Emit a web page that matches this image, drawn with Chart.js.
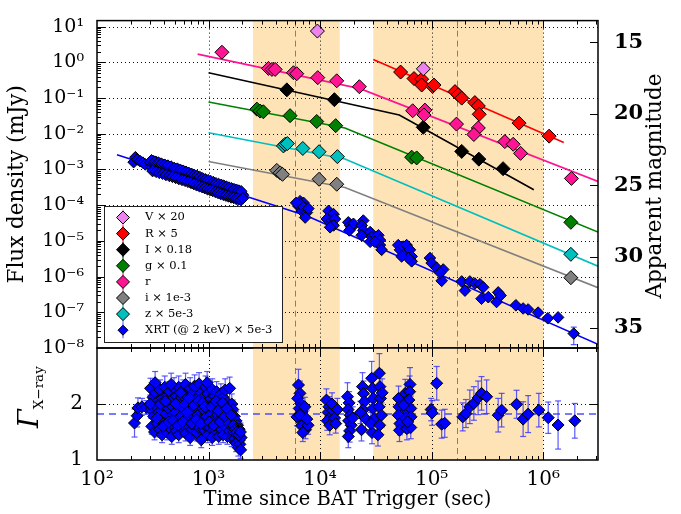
<!DOCTYPE html>
<html>
<head>
<meta charset="utf-8">
<script src="https://cdn.jsdelivr.net/npm/chart.js@4.4.1/dist/chart.umd.min.js"></script>
<style>
  html, body { margin: 0; padding: 0; background: #fff; }
  #wrap { position: relative; width: 681px; height: 514px; }
  #wrap canvas { position: absolute; left: 0; top: 0; }
</style>
</head>
<body>
<div id="wrap">
  <canvas id="fluxChart" width="681" height="514"></canvas>
  <canvas id="gammaChart" width="681" height="514"></canvas>
</div>
<script>
// axis ranges and ticks
const T_MIN = 100, T_MAX = 3.1e6;
const F_MIN = 1e-8, F_MAX = 14.7;
const G_MIN = 1, G_MAX = 3;
const xMajors = [1e2, 1e3, 1e4, 1e5, 1e6];
const fluxMajors = [1e-8, 1e-7, 1e-6, 1e-5, 1e-4, 1e-3, 1e-2, 1e-1, 1, 10];
const magTicks = [15, 20, 25, 30, 35];
const gammaTicks = [1, 2];
const shadedBands = [[2500, 15000], [30000, 1e6]];
const dashedTimes = [6000, 170000];
const gammaMean = 1.82;

// optical points [t (s), flux (mJy), err]
const vPts = [[9460, 7.49], [84300, 0.656]];
const RPts = [[52700, 0.533], [69500, 0.35], [81400, 0.336], [81400, 0.231], [102000, 0.211], [105000, 0.231],
  [162000, 0.151], [173000, 0.123], [186000, 0.0993], [244000, 0.0744], [262000, 0.060], [267000, 0.035],
  [608000, 0.0198], [1.13e6, 0.00855]];
const IPts = [[5035, 0.169], [13430, 0.0898], [84100, 0.0151], [186000, 0.0032], [265000, 0.00194], [437000, 0.00105, 0.00022]];
const gPts = [[2710, 0.0488], [2900, 0.043], [3100, 0.0412], [5380, 0.032], [9330, 0.022], [13800, 0.0168],
  [66200, 0.0022], [73400, 0.0021], [1.77e6, 3.3e-5]];
const rPts = [[1318, 1.91], [3444, 0.673], [3700, 0.632], [3955, 0.632], [5770, 0.51], [6180, 0.479], [9530, 0.372],
  [14100, 0.303], [22500, 0.207], [67600, 0.0439], [87100, 0.0458], [85300, 0.0335], [167000, 0.0186, 0.004],
  [262000, 0.0145], [239000, 0.0095], [453000, 0.00602], [538000, 0.00507], [627000, 0.00282], [1.79e6, 5.6e-4]];
const iPts = [[4090, 9.4e-4], [4390, 8.0e-4], [4600, 7.3e-4], [9790, 5.3e-4], [14100, 3.85e-4], [1.77e6, 9.3e-7]];
const zPts = [[4690, 4.55e-3], [4860, 5.07e-3], [5090, 5.3e-3], [7000, 3.87e-3], [9790, 3.13e-3], [14300, 2.28e-3], [1.77e6, 4.2e-6]];

// XRT flux at 2 keV (scaled) [t, flux, err]
const xrtPts = [
  [213, 1.6e-3], [221, 2.2e-3], [230, 1.9e-3], [244, 1.7e-3], [258, 1.55e-3], [271, 1.38e-3],
  [302, 1.55e-3], [305, 1.2e-3], [312, 1.1e-3], [318, 1.7e-3], [322, 1.4e-3], [328, 1.0e-3], [335, 1.25e-3],
  [340, 1.6e-3], [345, 1.4e-3], [352, 9.5e-4], [360, 1.15e-3], [366, 1.45e-3], [372, 1.3e-3], [380, 9e-4],
  [390, 1.1e-3], [398, 1.35e-3], [402, 1.2e-3], [410, 8.5e-4], [422, 1.05e-3], [428, 1.25e-3], [435, 9.5e-4],
  [448, 1.15e-3], [455, 8.2e-4], [460, 1.0e-3], [472, 1.1e-3], [480, 8.5e-4], [488, 9.2e-4], [500, 7.4e-4],
  [508, 1.0e-3], [515, 8.6e-4], [530, 8e-4], [538, 9.6e-4], [545, 6.8e-4], [560, 8.4e-4], [570, 7.2e-4],
  [578, 9.0e-4], [595, 7.6e-4], [605, 6.4e-4], [612, 8.2e-4], [630, 7.0e-4], [640, 5.8e-4], [648, 7.6e-4],
  [668, 6.4e-4], [680, 7.4e-4], [690, 5.6e-4], [710, 6.6e-4], [722, 5.2e-4], [732, 6.8e-4], [755, 5.8e-4],
  [768, 4.8e-4], [778, 6.2e-4], [800, 5.2e-4], [812, 4.5e-4], [825, 5.8e-4], [850, 4.8e-4], [862, 5.6e-4],
  [876, 4.2e-4], [905, 5.0e-4], [918, 4.0e-4], [932, 4.6e-4], [962, 4.2e-4], [975, 3.6e-4], [990, 4.6e-4],
  [1020, 3.9e-4], [1035, 3.4e-4], [1050, 4.3e-4], [1085, 3.6e-4], [1100, 3.1e-4], [1120, 4.0e-4], [1155, 3.4e-4],
  [1170, 2.9e-4], [1190, 3.7e-4], [1230, 3.2e-4], [1250, 2.8e-4], [1270, 3.5e-4], [1310, 3.0e-4], [1330, 2.6e-4],
  [1355, 3.3e-4], [1400, 2.8e-4], [1420, 2.5e-4], [1445, 3.0e-4], [1490, 2.7e-4], [1510, 2.3e-4], [1540, 2.9e-4],
  [1590, 2.5e-4], [1610, 2.2e-4], [1640, 2.7e-4], [1690, 2.4e-4], [1720, 2.0e-4], [1740, 2.6e-4], [1790, 2.2e-4],
  [1820, 1.85e-4], [1840, 2.4e-4], [1890, 2.0e-4], [1920, 2.3e-4], [1940, 1.75e-4], [1990, 2.1e-4], [2040, 1.9e-4],
  [308, 1.8e-3], [330, 1.65e-3], [355, 1.55e-3], [378, 1.45e-3], [405, 1.35e-3], [432, 1.28e-3], [462, 1.2e-3],
  [492, 1.1e-3], [525, 1.05e-3], [558, 9.8e-4], [592, 9.2e-4], [628, 8.6e-4], [665, 8.0e-4], [705, 7.5e-4],
  [745, 7.0e-4], [790, 6.6e-4], [835, 6.1e-4], [885, 5.6e-4], [935, 5.3e-4], [990, 5.0e-4], [1045, 4.7e-4],
  [1105, 4.4e-4], [1165, 4.1e-4], [1230, 3.9e-4], [1300, 3.7e-4], [1370, 3.5e-4], [1445, 3.3e-4], [1525, 3.1e-4],
  [1605, 2.95e-4], [1690, 2.8e-4], [1780, 2.7e-4], [1870, 2.55e-4], [1960, 2.45e-4],
  [315, 9.0e-4], [338, 8.6e-4], [362, 8.0e-4], [388, 7.6e-4], [415, 7.0e-4], [445, 6.6e-4], [475, 6.2e-4],
  [508, 5.8e-4], [542, 5.4e-4], [578, 5.1e-4], [615, 4.8e-4], [655, 4.5e-4], [695, 4.2e-4], [738, 3.9e-4],
  [782, 3.6e-4], [828, 3.4e-4], [876, 3.2e-4], [925, 3.0e-4], [978, 2.8e-4], [1032, 2.65e-4], [1090, 2.5e-4],
  [1150, 2.35e-4], [1215, 2.2e-4], [1285, 2.05e-4], [1355, 1.95e-4], [1430, 1.85e-4], [1510, 1.75e-4],
  [1595, 1.65e-4], [1680, 1.6e-4], [1770, 1.5e-4], [1860, 1.45e-4], [1950, 1.4e-4], [2030, 1.55e-4],
  [6620, 1.29e-4], [7100, 1.16e-4], [6390, 9.4e-5], [7350, 8.5e-5], [6850, 6.9e-5], [7610, 6.2e-5], [7350, 4.5e-5],
  [6710, 1.05e-4], [6100, 1.16e-4], [7850, 8.0e-5],
  [11900, 6.9e-5], [12300, 5.0e-5], [13200, 5.6e-5], [11500, 4.1e-5], [12700, 3.7e-5], [13600, 4.1e-5],
  [13200, 2.7e-5], [12300, 2.4e-5],
  [17900, 3.3e-5], [18600, 2.7e-5], [19200, 2.4e-5], [19900, 3.0e-5], [18300, 1.96e-5],
  [24400, 3.7e-5], [23600, 2.7e-5], [24400, 1.96e-5], [23600, 1.43e-5], [28100, 1.76e-5], [29000, 1.29e-5],
  [28100, 9.4e-6], [33300, 1.43e-5], [34400, 1.05e-5], [34400, 7.6e-6], [35600, 5.6e-6], [31000, 9.4e-6],
  [50200, 7.6e-6], [52000, 5.6e-6], [55700, 6.9e-6], [57700, 4.5e-6], [59700, 7.6e-6], [63900, 5.6e-6],
  [66200, 3.66e-6], [66200, 2.67e-6], [61800, 3.3e-6], [53800, 3.66e-6],
  [96600, 3.3e-6], [100000, 2.4e-6], [111000, 1.75e-6], [123000, 7.6e-7, 1.2e-7], [127000, 1.58e-6], [119000, 1.28e-6],
  [186000, 7.3e-7], [199000, 4.05e-7], [220000, 7.3e-7], [244000, 6.4e-7], [271000, 6.1e-7], [290000, 5.0e-7],
  [280000, 2.4e-7], [322000, 2.65e-7], [395000, 3.6e-7], [382000, 1.94e-7], [415000, 2.95e-7],
  [569000, 1.57e-7], [661000, 1.28e-7], [733000, 1.2e-7], [900000, 9.8e-8], [1.1e6, 6.8e-8], [1.36e6, 7.2e-8],
  [1.88e6, 2.54e-8, 1.3e-8]
];

// model curves [t, flux]
const RLine = [[30000, 1.19], [1.53e6, 0.00564]];
const rLine = [[798, 1.69], [22800, 0.183], [3.1e6, 4.6e-4]];
const ILine = [[1000, 0.51], [51300, 0.0335], [824000, 2.69e-4]];
const gLine = [[1000, 0.0773], [16700, 0.0144], [3.1e6, 1.76e-5]];
const zLine = [[1000, 0.0106], [16700, 1.97e-3], [3.1e6, 1.95e-6]];
const iLine = [[1000, 1.66e-3], [16700, 3.12e-4], [3.1e6, 4.9e-7]];
const xrtLine = [[151, 2.59e-3], [7660, 4.98e-5], [3.1e6, 1.27e-8]];

// X-ray photon index [t, gamma, err]
const gammaPts = [
  [217, 1.66, 0.25], [229, 1.79, 0.2], [233, 1.93, 0.18], [253, 1.95, 0.15], [277, 1.94, 0.12],
  [302, 2.28, 0.18], [318, 2.12, 0.17], [335, 2.2, 0.18], [350, 2.05, 0.16], [368, 2.25, 0.18], [385, 2.1, 0.17],
  [405, 2.3, 0.2], [425, 2.15, 0.17], [446, 2.22, 0.18], [468, 2.08, 0.17], [490, 2.28, 0.19], [514, 2.14, 0.17],
  [540, 2.3, 0.2], [566, 2.1, 0.17], [594, 2.25, 0.18], [622, 2.35, 0.2], [652, 2.12, 0.17], [684, 2.28, 0.19],
  [716, 2.18, 0.17], [750, 2.32, 0.2], [786, 2.1, 0.17], [822, 2.36, 0.2], [860, 2.2, 0.18], [900, 2.12, 0.17],
  [940, 2.3, 0.2], [985, 2.18, 0.18], [1030, 2.08, 0.17], [1078, 2.26, 0.19], [1128, 2.14, 0.17], [1180, 2.22, 0.18],
  [1235, 2.05, 0.17], [1290, 2.18, 0.18], [1350, 2.12, 0.17], [1410, 2.25, 0.2], [1475, 2.02, 0.17], [1545, 2.28, 0.2],
  [1615, 2.0, 0.18],
  [305, 1.9, 0.15], [322, 1.78, 0.15], [340, 1.95, 0.15], [358, 1.85, 0.15], [376, 1.72, 0.15], [395, 1.98, 0.16],
  [415, 1.82, 0.15], [436, 1.92, 0.15], [457, 1.76, 0.15], [479, 1.95, 0.16], [502, 1.85, 0.15], [527, 1.72, 0.15],
  [553, 1.98, 0.16], [580, 1.8, 0.15], [608, 1.9, 0.15], [637, 1.75, 0.15], [668, 1.96, 0.16], [700, 1.84, 0.15],
  [733, 1.7, 0.15], [768, 1.92, 0.16], [804, 1.8, 0.15], [841, 1.98, 0.16], [880, 1.74, 0.15], [920, 1.88, 0.15],
  [962, 1.78, 0.15], [1006, 1.95, 0.16], [1053, 1.82, 0.15], [1102, 1.72, 0.15], [1153, 1.92, 0.16], [1207, 1.8, 0.15],
  [1262, 1.95, 0.16], [1320, 1.76, 0.15], [1380, 1.88, 0.15], [1442, 1.7, 0.15], [1508, 1.85, 0.16], [1578, 1.72, 0.15],
  [1650, 1.9, 0.17], [1700, 1.78, 0.16], [1760, 1.7, 0.16], [1820, 1.62, 0.16],
  [310, 1.6, 0.14], [328, 1.5, 0.14], [346, 1.65, 0.14], [364, 1.55, 0.14], [383, 1.45, 0.14], [403, 1.62, 0.14],
  [424, 1.5, 0.14], [446, 1.58, 0.14], [468, 1.42, 0.14], [491, 1.6, 0.14], [515, 1.52, 0.14], [540, 1.45, 0.14],
  [566, 1.62, 0.14], [594, 1.55, 0.14], [622, 1.48, 0.14], [652, 1.6, 0.14], [684, 1.4, 0.14], [716, 1.55, 0.14],
  [750, 1.62, 0.14], [786, 1.48, 0.14], [822, 1.58, 0.14], [860, 1.36, 0.14], [900, 1.55, 0.14], [940, 1.62, 0.14],
  [985, 1.45, 0.14], [1030, 1.58, 0.14], [1078, 1.4, 0.14], [1128, 1.55, 0.14], [1180, 1.62, 0.14], [1235, 1.42, 0.14],
  [1290, 1.56, 0.14], [1350, 1.45, 0.14], [1410, 1.6, 0.14], [1475, 1.42, 0.14], [1545, 1.52, 0.14], [1615, 1.38, 0.14],
  [1680, 1.5, 0.15], [1720, 1.38, 0.15], [1770, 1.3, 0.15], [1810, 1.45, 0.15], [1850, 1.22, 0.15], [1880, 1.35, 0.15],
  [1910, 1.28, 0.15], [1940, 1.18, 0.15], [1960, 1.4, 0.15], [1880, 1.55, 0.15],
  [300, 2.0, 0.16], [332, 2.38, 0.2], [345, 1.75, 0.15], [372, 2.0, 0.16], [392, 1.6, 0.15], [410, 2.05, 0.16],
  [440, 1.68, 0.15], [462, 2.35, 0.2], [485, 1.7, 0.15], [510, 2.0, 0.16], [535, 1.62, 0.15], [560, 2.2, 0.18],
  [588, 1.68, 0.15], [615, 2.0, 0.16], [645, 1.85, 0.15], [675, 2.1, 0.17], [708, 1.65, 0.15], [742, 1.98, 0.16],
  [778, 1.72, 0.15], [812, 2.05, 0.16], [850, 1.65, 0.15], [890, 2.02, 0.16], [930, 1.95, 0.16], [972, 2.38, 0.2],
  [1018, 1.68, 0.15], [1065, 1.95, 0.16], [1115, 1.62, 0.15], [1165, 2.05, 0.16], [1220, 1.88, 0.16],
  [1275, 1.68, 0.15], [1335, 2.02, 0.16], [1395, 1.78, 0.15], [1460, 1.92, 0.16], [1525, 1.65, 0.15],
  [1595, 1.8, 0.16], [1665, 1.62, 0.16], [1735, 1.55, 0.16], [1795, 1.5, 0.16], [1870, 1.45, 0.16], [1930, 1.5, 0.16],
  [6400, 2.34, 0.28], [6600, 2.19, 0.22], [6300, 2.1, 0.2], [6700, 2.01, 0.18], [6500, 1.92, 0.17], [6900, 1.86, 0.16],
  [6200, 1.77, 0.16], [7100, 1.7, 0.16], [6800, 1.61, 0.16], [7400, 1.54, 0.16], [7000, 1.49, 0.16], [7800, 1.62, 0.16],
  [6600, 1.8, 0.16], [7300, 1.95, 0.17], [7600, 1.73, 0.16],
  [11400, 2.07, 0.2], [12000, 1.95, 0.18], [11800, 1.85, 0.17], [12500, 1.78, 0.17], [11600, 1.7, 0.17],
  [12200, 1.62, 0.17], [13000, 1.88, 0.17], [13500, 1.75, 0.17], [12800, 2.0, 0.2], [13800, 1.65, 0.17], [14300, 1.9, 0.2],
  [17600, 2.13, 0.25], [18200, 2.02, 0.2], [17800, 1.9, 0.2], [18600, 1.8, 0.2], [18000, 1.7, 0.2], [19000, 1.62, 0.2],
  [18400, 1.52, 0.2], [17900, 1.42, 0.2], [19600, 1.75, 0.2],
  [24000, 2.31, 0.25], [24500, 2.19, 0.22], [25000, 2.04, 0.22], [24200, 1.89, 0.2], [25500, 1.74, 0.2],
  [23500, 1.54, 0.2], [23000, 1.85, 0.2], [29000, 2.46, 0.3], [29500, 2.28, 0.25], [30000, 2.1, 0.22],
  [29800, 1.92, 0.22], [30500, 1.74, 0.2], [29200, 1.49, 0.2], [28500, 1.65, 0.2], [34000, 2.55, 0.35],
  [34400, 2.31, 0.3], [34800, 2.1, 0.25], [33800, 1.95, 0.22], [35500, 1.8, 0.22], [34200, 1.62, 0.2],
  [33000, 1.45, 0.2], [36000, 2.2, 0.25],
  [50500, 2.1, 0.22], [51000, 1.95, 0.2], [50200, 1.8, 0.2], [52000, 1.65, 0.2], [51500, 1.53, 0.2], [58000, 2.19, 0.25],
  [59000, 2.04, 0.22], [59500, 1.89, 0.2], [58500, 1.74, 0.2], [60000, 1.56, 0.2], [64000, 2.35, 0.3],
  [63500, 2.22, 0.28], [62500, 2.07, 0.25], [65000, 1.92, 0.22], [65500, 1.77, 0.22], [65000, 1.58, 0.2],
  [56000, 1.98, 0.2], [61000, 1.68, 0.2],
  [99000, 1.9, 0.2], [101000, 1.84, 0.22], [111000, 2.37, 0.3], [123000, 1.64, 0.25], [131000, 1.655, 0.25],
  [190000, 1.77, 0.25], [203000, 1.83, 0.25], [220000, 1.95, 0.3], [239000, 2.01, 0.3], [261000, 2.11, 0.3],
  [280000, 2.19, 0.3], [311000, 2.13, 0.3], [395000, 1.8, 0.3], [424000, 1.89, 0.3], [577000, 1.995, 0.25],
  [661000, 1.73, 0.31], [733000, 1.82, 0.33], [914000, 1.89, 0.3], [1.11e6, 1.755, 0.28], [1.36e6, 1.625, 0.43],
  [1.92e6, 1.7, 0.31]
];

const legendLabels = ['V \u00d7 20', 'R \u00d7 5', 'I \u00d7 0.18', 'g \u00d7 0.1', 'r', 'i \u00d7 1e-3', 'z \u00d7 5e-3',
  'XRT (@ 2 keV) \u00d7 5e-3'];
const legendColors = ['#EE82EE', '#FF0000', '#000000', '#008000', '#FF1493', '#808080', '#00BFBF', '#0000FF'];

const SERIF = '"DejaVu Serif", serif';
const BAND = '#fde3b5';
const SUP = {'-': '\u207B', '0': '\u2070', '1': '\u00B9', '2': '\u00B2', '3': '\u00B3', '4': '\u2074',
  '5': '\u2075', '6': '\u2076', '7': '\u2077', '8': '\u2078', '9': '\u2079'};
const powLabel = v => '10' + String(Math.round(Math.log10(v))).split('').map(c => SUP[c]).join('');
const magAt = f => 16.4 - 2.5 * Math.log10(f);
const setTicks = list => s => { s.ticks = list.map(v => ({value: v})); };

function pointSet(pts, color, r) {
  return {
    data: pts.map(p => ({x: p[0], y: p[1]})),
    errorBars: pts.map(p => p[2] || 0),
    errorColor: color === '#0000FF' ? 'rgba(50,50,255,0.8)' : color,
    pointStyle: 'rectRot', pointRadius: r, backgroundColor: color,
    borderColor: '#000', borderWidth: 1, order: 1
  };
}
function lineSet(pts, color) {
  return {
    data: pts.map(p => ({x: p[0], y: p[1]})),
    showLine: true, pointRadius: 0, borderColor: color, borderWidth: 1.6, order: 2
  };
}

function hline(ctx, x0, y0, x1, y1) {
  ctx.beginPath(); ctx.moveTo(x0, y0); ctx.lineTo(x1, y1); ctx.stroke();
}

// bands, dotted grid, dashed epochs, frame and inward ticks
const panelDecor = {
  id: 'panelDecor',
  beforeDatasetsDraw(chart, args, o) {
    const {ctx, chartArea: a, scales} = chart;
    const x = scales.x, y = scales.y;
    ctx.save();
    ctx.beginPath(); ctx.rect(a.left, a.top, a.right - a.left, a.bottom - a.top); ctx.clip();
    ctx.fillStyle = BAND;
    shadedBands.forEach(([t0, t1]) => {
      const p0 = x.getPixelForValue(t0), p1 = x.getPixelForValue(t1);
      ctx.fillRect(p0, a.top, p1 - p0, a.bottom - a.top);
    });
    ctx.strokeStyle = '#111'; ctx.lineWidth = 1; ctx.setLineDash([1, 3]);
    xMajors.forEach(v => {
      const p = Math.round(x.getPixelForValue(v)) + 0.5;
      if (p > a.left + 2 && p < a.right - 2) hline(ctx, p, a.top, p, a.bottom);
    });
    o.yGrid.forEach(v => {
      const p = Math.round(y.getPixelForValue(v)) + 0.5;
      if (p > a.top + 2 && p < a.bottom - 2) hline(ctx, a.left, p, a.right, p);
    });
    ctx.strokeStyle = '#808080'; ctx.setLineDash([6, 4]);
    dashedTimes.forEach(v => {
      const p = Math.round(x.getPixelForValue(v)) + 0.5;
      hline(ctx, p, a.top, p, a.bottom);
    });
    ctx.restore();
  },
  afterDatasetsDraw(chart, args, o) {
    const {ctx, chartArea: a, scales} = chart;
    const x = scales.x, y = scales.y;
    ctx.save();
    ctx.strokeStyle = '#000'; ctx.lineWidth = 1;
    for (let e = 2; e <= 6; e++) {
      for (let m = 1; m <= 9; m++) {
        const v = m * Math.pow(10, e);
        if (v <= T_MIN || v >= T_MAX) continue;
        const p = Math.round(x.getPixelForValue(v)) + 0.5, len = m === 1 ? 8 : 4;
        hline(ctx, p, a.top, p, a.top + len);
        hline(ctx, p, a.bottom, p, a.bottom - len);
      }
    }
    if (o.logY) {
      for (let e = -8; e <= 1; e++) {
        for (let m = 1; m <= 9; m++) {
          const v = m * Math.pow(10, e);
          if (v <= F_MIN || v >= F_MAX) continue;
          const p = Math.round(y.getPixelForValue(v)) + 0.5, len = m === 1 ? 8 : 4;
          hline(ctx, a.left, p, a.left + len, p);
        }
      }
      const ym = scales.yMag;
      magTicks.forEach(v => {
        const p = Math.round(ym.getPixelForValue(v)) + 0.5;
        hline(ctx, a.right, p, a.right - 8, p);
      });
    } else {
      o.yGrid.forEach(v => {
        const p = Math.round(y.getPixelForValue(v)) + 0.5;
        hline(ctx, a.left, p, a.left + 8, p);
        hline(ctx, a.right, p, a.right - 8, p);
      });
    }
    ctx.lineWidth = 1.5;
    ctx.strokeRect(a.left, a.top, a.right - a.left, a.bottom - a.top);
    ctx.restore();
  }
};

// vertical error bars from each dataset's errorBars list
const errorBars = {
  id: 'errorBars',
  beforeDatasetsDraw(chart) {
    const {ctx, chartArea: a} = chart;
    ctx.save();
    ctx.beginPath(); ctx.rect(a.left, a.top, a.right - a.left, a.bottom - a.top); ctx.clip();
    chart.data.datasets.forEach((ds, i) => {
      if (!ds.errorBars) return;
      const meta = chart.getDatasetMeta(i);
      const ys = chart.scales[meta.yAxisID];
      ctx.strokeStyle = ds.errorColor; ctx.lineWidth = 1.2;
      ds.data.forEach((d, j) => {
        const e = ds.errorBars[j];
        if (!e) return;
        const px = meta.data[j].x;
        const lo = d.y - e > 0 ? d.y - e : d.y * 0.3;
        const y0 = ys.getPixelForValue(lo), y1 = ys.getPixelForValue(d.y + e);
        hline(ctx, px, y0, px, y1);
        hline(ctx, px - 3, y0, px + 3, y0);
        hline(ctx, px - 3, y1, px + 3, y1);
      });
    });
    ctx.restore();
  }
};

function diamond(ctx, cx, cy, r, fill) {
  ctx.beginPath();
  ctx.moveTo(cx, cy - r); ctx.lineTo(cx + r, cy); ctx.lineTo(cx, cy + r); ctx.lineTo(cx - r, cy); ctx.closePath();
  ctx.fillStyle = fill; ctx.fill();
  ctx.strokeStyle = '#000'; ctx.lineWidth = 1; ctx.stroke();
}

const legendBox = {
  id: 'legendBox',
  afterDraw(chart) {
    const ctx = chart.ctx;
    const bx = 104, by = 206, bw = 178, bh = 136;
    ctx.save();
    ctx.fillStyle = '#fff'; ctx.fillRect(bx, by, bw, bh);
    ctx.strokeStyle = '#222'; ctx.lineWidth = 1; ctx.strokeRect(bx + 0.5, by + 0.5, bw, bh);
    ctx.font = '11.5px ' + SERIF; ctx.textBaseline = 'middle'; ctx.textAlign = 'left';
    legendLabels.forEach((lab, i) => {
      const cy = by + 11.5 + i * 16.1, cx = bx + 19, col = legendColors[i];
      const r = i === 7 ? 5 : 6.5;
      ctx.strokeStyle = i === 7 ? 'rgba(60,60,255,0.8)' : col; ctx.lineWidth = 1.2;
      hline(ctx, cx, cy - 8, cx, cy + 8);
      diamond(ctx, cx, cy, r, col);
      ctx.fillStyle = '#000'; ctx.fillText(lab, bx + 41, cy);
    });
    ctx.restore();
  }
};

const sideTitles = {
  id: 'sideTitles',
  afterDraw(chart, args, o) {
    const ctx = chart.ctx;
    ctx.save();
    ctx.fillStyle = '#000';
    if (o.mag) {
      ctx.translate(655, 186); ctx.rotate(-Math.PI / 2);
      ctx.font = '21.5px ' + SERIF; ctx.textAlign = 'center'; ctx.textBaseline = 'middle';
      ctx.fillText('Apparent magnitude', 0, 0);
    } else {
      ctx.translate(38, 392); ctx.rotate(-Math.PI / 2);
      ctx.textBaseline = 'alphabetic'; ctx.textAlign = 'left';
      ctx.font = 'italic 27px ' + SERIF;
      const w = ctx.measureText('\u0393').width;
      ctx.fillText('\u0393', -36, 0);
      ctx.font = '13.5px ' + SERIF;
      ctx.fillText('X\u2212ray', -36 + w, 5);
    }
    ctx.restore();
  }
};

const tickFont = {family: SERIF, size: 19};
const noGrid = {display: false};
const noBorder = {display: false};

new Chart(document.getElementById('fluxChart'), {
  type: 'scatter',
  data: {
    datasets: [
      pointSet(vPts, '#EE82EE', 7), pointSet(RPts, '#FF0000', 7), pointSet(rPts, '#FF1493', 7),
      pointSet(IPts, '#000000', 7), pointSet(gPts, '#008000', 7), pointSet(zPts, '#00BFBF', 7),
      pointSet(iPts, '#808080', 7), pointSet(xrtPts, '#0000FF', 5.8),
      lineSet(RLine, '#FF0000'), lineSet(rLine, '#FF1493'), lineSet(ILine, '#000000'), lineSet(gLine, '#008000'),
      lineSet(zLine, '#00BFBF'), lineSet(iLine, '#808080'), lineSet(xrtLine, '#0000FF')
    ]
  },
  options: {
    responsive: false, animation: false, events: [],
    layout: {padding: {left: 0, right: 0, top: 13, bottom: 166}},
    plugins: {
      legend: {display: false}, tooltip: {enabled: false},
      panelDecor: {yGrid: fluxMajors, logY: true},
      sideTitles: {mag: true}
    },
    scales: {
      x: {
        type: 'logarithmic', min: T_MIN, max: T_MAX, afterBuildTicks: setTicks(xMajors),
        ticks: {display: false}, grid: noGrid, border: noBorder,
        afterFit: s => { s.height = 0; }
      },
      y: {
        type: 'logarithmic', position: 'left', min: F_MIN, max: F_MAX, afterBuildTicks: setTicks(fluxMajors),
        ticks: {callback: v => powLabel(v), font: tickFont, color: '#000', padding: 5},
        title: {display: true, text: 'Flux density (mJy)', font: {family: SERIF, size: 21.5}, color: '#000', padding: {top: 5, bottom: 0}},
        grid: noGrid, border: noBorder,
        afterFit: s => { s.width = 97; }
      },
      yMag: {
        type: 'linear', position: 'right', reverse: true, min: magAt(F_MAX), max: magAt(F_MIN),
        afterBuildTicks: setTicks(magTicks),
        ticks: {font: {family: SERIF, size: 21, weight: 'bold'}, color: '#000', padding: 8},
        grid: noGrid, border: noBorder,
        afterFit: s => { s.width = 83; }
      }
    }
  },
  plugins: [panelDecor, errorBars, legendBox, sideTitles]
});

new Chart(document.getElementById('gammaChart'), {
  type: 'scatter',
  data: {
    datasets: [
      pointSet(gammaPts, '#0000FF', 6),
      {
        data: [{x: T_MIN, y: gammaMean}, {x: T_MAX, y: gammaMean}],
        showLine: true, pointRadius: 0, borderColor: 'rgba(60,60,255,0.9)', borderWidth: 1.5,
        borderDash: [7, 5], order: 3
      }
    ]
  },
  options: {
    responsive: false, animation: false, events: [],
    layout: {padding: {left: 0, right: 83, top: 348, bottom: 0}},
    plugins: {
      legend: {display: false}, tooltip: {enabled: false},
      panelDecor: {yGrid: [2], logY: false},
      sideTitles: {mag: false}
    },
    scales: {
      x: {
        type: 'logarithmic', min: T_MIN, max: T_MAX, afterBuildTicks: setTicks(xMajors),
        ticks: {callback: v => powLabel(v), font: {family: SERIF, size: 20}, color: '#000', padding: 0, maxRotation: 0, autoSkip: false},
        title: {display: true, text: 'Time since BAT Trigger (sec)', font: {family: SERIF, size: 19.5}, color: '#000', padding: {top: 0, bottom: 2}},
        grid: noGrid, border: noBorder,
        afterFit: s => { s.height = 54; }
      },
      y: {
        type: 'linear', min: G_MIN, max: G_MAX, afterBuildTicks: setTicks(gammaTicks),
        ticks: {font: {family: SERIF, size: 20}, color: '#000', padding: 6},
        grid: noGrid, border: noBorder,
        afterFit: s => { s.width = 97; }
      }
    }
  },
  plugins: [panelDecor, errorBars, sideTitles]
});
</script>
</body>
</html>
